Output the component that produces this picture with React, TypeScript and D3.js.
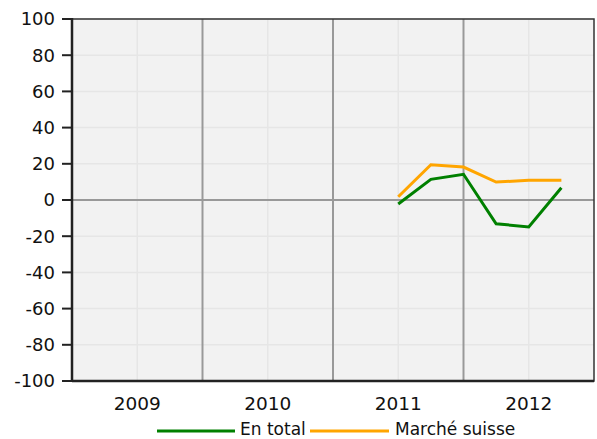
import React from "react";
import * as d3 from "d3";

const years = ["2009", "2010", "2011", "2012"];
const quarters = [2011.5, 2011.75, 2012.0, 2012.25, 2012.5, 2012.75];
const enTotal = [-2.2, 11.4, 14.2, -13.1, -14.9, 6.8];
const marcheSuisse = [1.8, 19.5, 18.2, 9.9, 10.9, 10.9];
const yTicks = [100, 80, 60, 40, 20, 0, -20, -40, -60, -80, -100];

export default function App() {
  const W = 597, H = 439;
  const L = 72, R = 594, T = 19, B = 381;
  const x = d3.scaleLinear().domain([2009, 2013]).range([L, R]);
  const y = d3.scaleLinear().domain([-100, 100]).range([B, T]);
  const line = d3.line<[number, number]>().x(d => x(d[0])).y(d => y(d[1]));
  const font = "'DejaVu Sans', sans-serif";
  return (
    <svg width={W} height={H} style={{ position: "absolute", left: 0, top: 0 }}>
      <rect x={L} y={T} width={R - L} height={B - T} fill="#f2f2f2" />
      {yTicks.map(t => (
        <line key={"h" + t} x1={L} x2={R} y1={y(t)} y2={y(t)} stroke="#e6e6e6" strokeWidth={1.5} />
      ))}
      {years.map((yr, i) => (
        <line key={"m" + yr} x1={x(2009 + i + 0.5)} x2={x(2009 + i + 0.5)} y1={T} y2={B} stroke="#e6e6e6" strokeWidth={1.5} />
      ))}
      {[2010, 2011, 2012].map(v => (
        <line key={"v" + v} x1={x(v)} x2={x(v)} y1={T} y2={B} stroke="#999" strokeWidth={2} />
      ))}
      <line x1={L} x2={R} y1={y(0)} y2={y(0)} stroke="#999" strokeWidth={2} />
      <path d={line(quarters.map((q, i) => [q, enTotal[i]]) as [number, number][]) || ""} fill="none" stroke="#008000" strokeWidth={3} />
      <path d={line(quarters.map((q, i) => [q, marcheSuisse[i]]) as [number, number][]) || ""} fill="none" stroke="#ffa500" strokeWidth={3} />
      <rect x={L} y={T} width={R - L} height={B - T} fill="none" stroke="#333" strokeWidth={1.5} />
      <line x1={L} x2={L} y1={T - 1} y2={B + 1} stroke="#222" strokeWidth={2.5} />
      <line x1={L} x2={R} y1={B} y2={B} stroke="#222" strokeWidth={2.5} />
      {yTicks.map(t => (
        <g key={"t" + t}>
          <line x1={L - 10} x2={L} y1={y(t)} y2={y(t)} stroke="#222" strokeWidth={2} />
          <text x={55} y={y(t)} dy="0.36em" textAnchor="end" fontFamily={font} fontSize={18} fill="#111">{t}</text>
        </g>
      ))}
      {years.map((yr, i) => (
        <text key={"y" + yr} x={x(2009 + i + 0.5)} y={410} textAnchor="middle" fontFamily={font} fontSize={18.5} fill="#111">{yr}</text>
      ))}
      <line x1={157} x2={235} y1={431} y2={431} stroke="#008000" strokeWidth={3} />
      <text x={240} y={435} fontFamily={font} fontSize={17} fill="#111">En total</text>
      <line x1={310} x2={389} y1={431} y2={431} stroke="#ffa500" strokeWidth={3} />
      <text x={395} y={435} fontFamily={font} fontSize={17} fill="#111">Marché suisse</text>
    </svg>
  );
}
